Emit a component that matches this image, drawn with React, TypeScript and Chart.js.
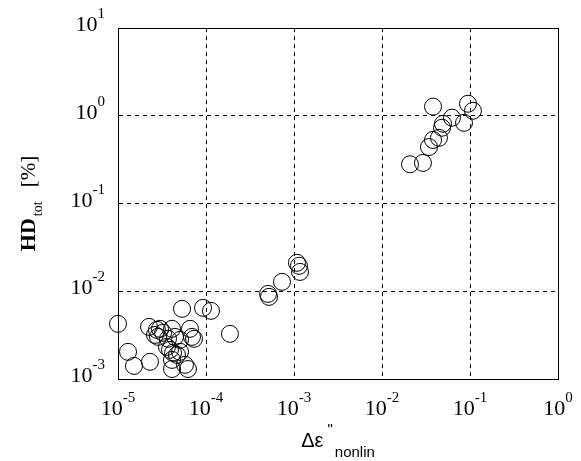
import { useEffect, useRef } from 'react';
import { Chart, registerables } from 'chart.js';

Chart.register(...registerables);

// Δε''_nonlin values
const xValues: number[] = [
  1.0e-5, 1.3e-5, 1.52e-5, 2.25e-5, 2.31e-5, 2.77e-5, 3.0e-5, 2.63e-5, 2.85e-5, 3.25e-5,
  4.11e-5, 3.7e-5, 4.44e-5, 6.58e-5, 6.93e-5, 7.31e-5, 3.6e-5, 3.9e-5, 4.22e-5, 4.68e-5,
  4.11e-5, 4.11e-5, 5.77e-5, 6.24e-5, 5.07e-5, 5.34e-5, 9.25e-5, 1.14e-4, 1.87e-4, 5.07e-5,
  5.07e-4, 5.2e-4, 7.31e-4, 1.08e-3, 1.14e-3, 1.17e-3,
  2.08e-2, 2.92e-2, 3.42e-2, 3.8e-2, 4.44e-2, 4.81e-2, 4.93e-2, 6.24e-2, 8.55e-2, 9.49e-2,
  1.08e-1, 3.8e-2,
];

// HD_tot [%] values
const yValues: number[] = [
  0.00425, 0.00204, 0.00141, 0.00393, 0.00157, 0.00363, 0.00373, 0.00318, 0.00302, 0.00336,
  0.00373, 0.00287, 0.00302, 0.00373, 0.00302, 0.00287, 0.00232, 0.00215, 0.00199, 0.00188,
  0.00165, 0.0013, 0.00145, 0.0013, 0.00204, 0.0063, 0.00647, 0.00598, 0.00327, 0.00279,
  0.00933, 0.00863, 0.0128, 0.0211, 0.0195, 0.0166,
  0.28, 0.29, 0.44, 0.53, 0.56, 0.73, 0.81, 0.95, 0.83, 1.37,
  1.14, 1.27,
];

const xTickExponents: number[] = [-5, -4, -3, -2, -1, 0];
const yTickExponents: number[] = [-3, -2, -1, 0, 1];

const SERIF = '"Liberation Serif", "Times New Roman", serif';
const SANS = '"Liberation Sans", Arial, sans-serif';

const textPlugin = {
  id: 'customText',
  afterDraw(chart: any) {
    const ctx: CanvasRenderingContext2D = chart.ctx;
    const area = chart.chartArea;
    const xs = chart.scales.x;
    const ys = chart.scales.y;
    ctx.save();

    // frame
    ctx.strokeStyle = '#000';
    ctx.lineWidth = 1;
    ctx.setLineDash([]);
    ctx.strokeRect(Math.round(area.left) + 0.5, Math.round(area.top) + 0.5,
      Math.round(area.right - area.left), Math.round(area.bottom - area.top));

    ctx.fillStyle = '#000';
    ctx.textBaseline = 'alphabetic';
    const baseFont = `22px ${SERIF}`;
    const expFont = `15px ${SERIF}`;

    // x tick labels
    xTickExponents.forEach((e) => {
      const px = xs.getPixelForValue(Math.pow(10, e));
      const expText = String(e).replace('-', '-');
      ctx.font = baseFont;
      const wb = ctx.measureText('10').width;
      ctx.font = expFont;
      const we = ctx.measureText(expText).width;
      const start = px - (wb + we) / 2;
      const base = 415;
      ctx.textAlign = 'left';
      ctx.font = baseFont;
      ctx.fillText('10', start, base);
      ctx.font = expFont;
      ctx.fillText(expText, start + wb, base - 13);
    });

    // y tick labels
    yTickExponents.forEach((e) => {
      const py = ys.getPixelForValue(Math.pow(10, e));
      const expText = String(e);
      ctx.font = baseFont;
      const wb = ctx.measureText('10').width;
      ctx.font = expFont;
      const we = ctx.measureText(expText).width;
      const right = 105;
      const start = right - wb - we;
      const base = py + 3;
      ctx.textAlign = 'left';
      ctx.font = baseFont;
      ctx.fillText('10', start, base);
      ctx.font = expFont;
      ctx.fillText(expText, start + wb, base - 13);
    });

    // x title: Δε"_nonlin
    {
      const f1 = `20px ${SANS}`;
      const f2 = `15px ${SANS}`;
      ctx.font = f1;
      const w1 = ctx.measureText('\u0394\u03B5').width;
      ctx.font = f2;
      const wq = ctx.measureText('"').width;
      const wn = ctx.measureText('nonlin').width;
      const total = w1 + 4 + wq + 2 + wn;
      const cx = (area.left + area.right) / 2;
      let x = cx - total / 2;
      ctx.textAlign = 'left';
      ctx.font = f1;
      ctx.fillText('\u0394\u03B5', x, 447);
      x += w1 + 4;
      ctx.font = f2;
      ctx.fillText('"', x, 434);
      x += wq + 2;
      ctx.fillText('nonlin', x, 457);
    }

    // y title: HD_tot [%]
    {
      const fHD = `bold 22px ${SERIF}`;
      const fSub = `14px ${SERIF}`;
      const fPct = `21px ${SERIF}`;
      ctx.font = fHD;
      const wHD = ctx.measureText('HD').width;
      ctx.font = fSub;
      const wSub = ctx.measureText('tot').width;
      ctx.font = fPct;
      const wPct = ctx.measureText('[%]').width;
      const gap1 = 2;
      const gap2 = 14;
      const total = wHD + gap1 + wSub + gap2 + wPct;
      const cy = (area.top + area.bottom) / 2;
      ctx.translate(35, cy + total / 2);
      ctx.rotate(-Math.PI / 2);
      ctx.textAlign = 'left';
      ctx.font = fHD;
      ctx.fillText('HD', 0, 0);
      ctx.font = fSub;
      ctx.fillText('tot', wHD + gap1, 7);
      ctx.font = fPct;
      ctx.fillText('[%]', wHD + gap1 + wSub + gap2, 0);
    }

    ctx.restore();
  },
};

export default function App() {
  const canvasRef = useRef<HTMLCanvasElement | null>(null);

  useEffect(() => {
    if (!canvasRef.current) return;
    const points = xValues.map((x, i) => ({ x, y: yValues[i] }));
    const chart = new Chart(canvasRef.current, {
      type: 'scatter',
      data: {
        datasets: [
          {
            data: points,
            pointStyle: 'circle',
            pointRadius: 8.5,
            pointHoverRadius: 8.5,
            borderColor: '#000',
            borderWidth: 1,
            backgroundColor: 'rgba(0,0,0,0)',
            clip: false as any,
          },
        ],
      },
      options: {
        animation: false,
        responsive: true,
        maintainAspectRatio: false,
        layout: { padding: { left: 0, top: 28, right: 23, bottom: 0 } },
        plugins: { legend: { display: false }, tooltip: { enabled: false } },
        scales: {
          x: {
            type: 'logarithmic',
            min: 1e-5,
            max: 1,
            afterBuildTicks: (s: any) => {
              s.ticks = xTickExponents.map((e) => ({ value: Math.pow(10, e), major: true }));
            },
            afterFit: (s: any) => {
              s.height = 82;
            },
            ticks: { display: false },
            grid: { color: '#000', lineWidth: 1, drawTicks: false },
            border: { display: true, color: '#000', width: 1, dash: [4, 4] },
          },
          y: {
            type: 'logarithmic',
            min: 1e-3,
            max: 10,
            afterBuildTicks: (s: any) => {
              s.ticks = yTickExponents.map((e) => ({ value: Math.pow(10, e), major: true }));
            },
            afterFit: (s: any) => {
              s.width = 118;
            },
            ticks: { display: false },
            grid: { color: '#000', lineWidth: 1, drawTicks: false },
            border: { display: true, color: '#000', width: 1, dash: [4, 4] },
          },
        },
      },
      plugins: [textPlugin],
    });
    return () => chart.destroy();
  }, []);

  return (
    <div style={{ position: 'absolute', left: 0, top: 0, width: 581, height: 461, background: '#fff' }}>
      <canvas ref={canvasRef} />
    </div>
  );
}
